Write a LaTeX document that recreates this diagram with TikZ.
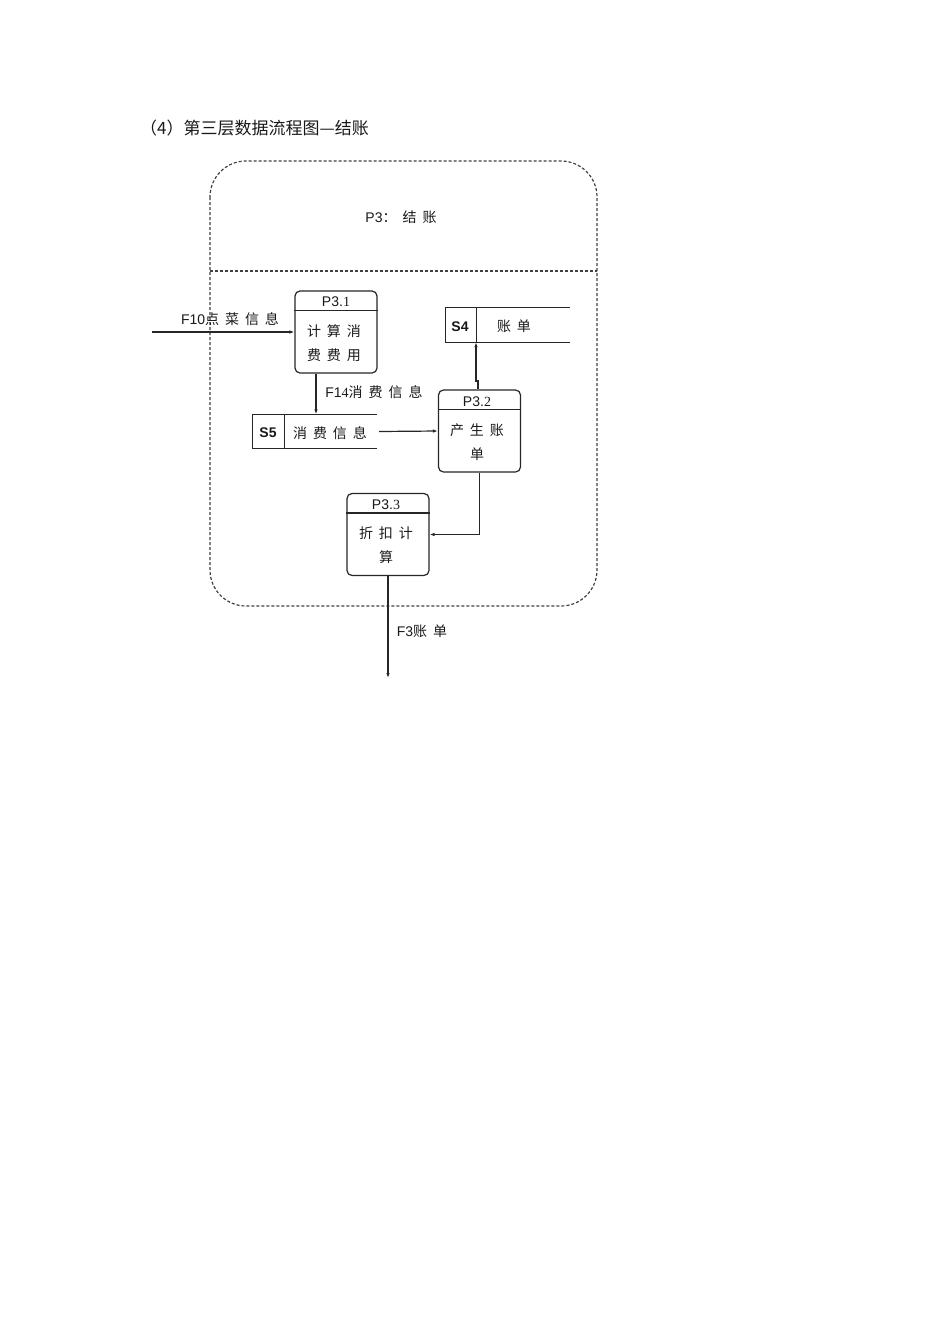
\documentclass[tikz,border=0pt]{standalone}
\usepackage{fontspec}
\setmainfont{Liberation Sans}
\newfontfamily\cjk[WordSpace=1.9]{Noto Sans CJK SC}
\newfontfamily\serfont{Liberation Serif}
\usetikzlibrary{arrows.meta,calc}
\newcommand\zh[1]{{\cjk #1}}
\begin{document}
\begin{tikzpicture}[x=1pt,y=-1pt,
  line/.style={draw=black!85, line width=1.2pt},
  flow/.style={line, -{Latex[length=5pt,width=3.5pt]}},
  proc/.style={draw=black!85, line width=1.2pt, rounded corners=5pt, minimum width=82pt, minimum height=82pt, inner sep=0pt},
  store/.style={minimum width=124pt, minimum height=34pt, inner sep=0pt},
  txt/.style={inner sep=0pt, font=\fontsize{14pt}{16pt}\selectfont, text=black!90},
  bord/.style={draw=black!75, line width=1.2pt, dash pattern=on 3pt off 2pt}
]
\useasboundingbox (0,0) rectangle (950,1344);

% title
\node[txt, anchor=west, font=\fontsize{17pt}{19pt}\selectfont] (title) at (140,128) {\zh{（4）第三层数据流程图—结账}};

% outer dashed border
\draw[bord, rounded corners=36pt] (210,161) rectangle (597,606);
\coordinate (dl) at (210,271);
\coordinate (dr) at (597,271);
\draw[bord] (dl) -- (dr);
\node[txt] (p3t) at (401,217) {P3\zh{： 结 账}};

% P3.1
\node[proc] (p31) at (336,332) {};
\draw[line] ($(p31.north west)+(0,20)$) -- ($(p31.north east)+(0,20)$);
\node[txt] (p31h) at (336,302) {P3.{\serfont 1}};
\node[txt] (p31a) at (334,331) {\zh{计 算 消}};
\node[txt] (p31b) at (334,355) {\zh{费 费 用}};

% P3.2
\node[proc] (p32) at (479.5,431) {};
\draw[line] ($(p32.north west)+(0,20)$) -- ($(p32.north east)+(0,20)$);
\node[txt] (p32h) at (477,402) {P3.{\serfont 2}};
\node[txt] (p32a) at (477,430) {\zh{产 生 账}};
\node[txt] (p32b) at (477,454) {\zh{单}};

% P3.3
\node[proc] (p33) at (388,534.5) {};
\draw[line] ($(p33.north west)+(0,20)$) -- ($(p33.north east)+(0,20)$);
\node[txt] (p33h) at (386,505) {P3.{\serfont 3}};
\node[txt] (p33a) at (386,533) {\zh{折 扣 计}};
\node[txt] (p33b) at (386,557) {\zh{算}};

% S5
\node[store] (s5) at (315,431.5) {};
\draw[line] (s5.north east) -- (s5.north west) -- (s5.south west) -- (s5.south east);
\draw[line] ($(s5.north west)+(32,0)$) -- ($(s5.south west)+(32,0)$);
\node[txt, font=\bfseries\fontsize{14pt}{16pt}\selectfont] (s5id) at (268,433) {S5};
\node[txt] (s5n) at (330,433) {\zh{消 费 信 息}};

% S4
\node[store] (s4) at (507.5,325) {};
\draw[line] (s4.north east) -- (s4.north west) -- (s4.south west) -- (s4.south east);
\draw[line] ($(s4.north west)+(31,0)$) -- ($(s4.south west)+(31,0)$);
\node[txt, font=\bfseries\fontsize{14pt}{16pt}\selectfont] (s4id) at (460,327) {S4};
\node[txt] (s4n) at (514,326) {\zh{账 单}};

% flows
\coordinate (f10s) at (152,332);
\draw[flow] (f10s) -- (p31.west);
\node[txt] (f10l) at (230,319) {F10\zh{点 菜 信 息}};

\draw[flow] (p31.south -| 316,0) -- (s5.north -| 316,0);
\node[txt] (f14l) at (374,392) {F1{\serfont 4}\zh{消 费 信 息}};

\draw[flow] ($(s5.east)+(2,0)$) -- (p32.west);

\draw[flow] (p32.north -| 478,0) -- (478,381) -- (476,381) -- (s4.south -| 476,0);

\draw[flow] (p32.south) |- (p33.east);

\coordinate (f3e) at (388,678);
\draw[flow] (p33.south) -- (f3e);
\node[txt] (f3l) at (422,631) {F3\zh{账 单}};
\end{tikzpicture}
\end{document}
